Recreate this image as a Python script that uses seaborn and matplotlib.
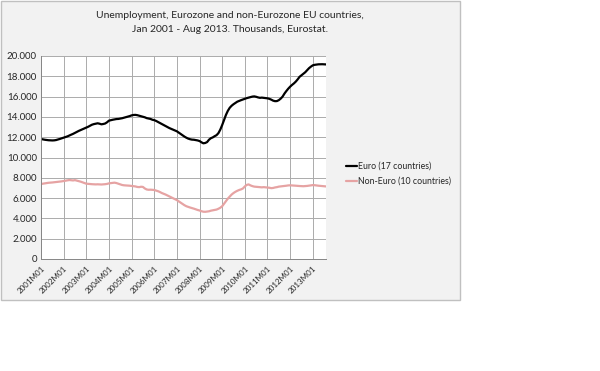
import numpy as np
import pandas as pd
import seaborn as sns
import matplotlib.pyplot as plt
from matplotlib.patches import Rectangle
from matplotlib.ticker import FuncFormatter

# ======================= Data (thousands, monthly Jan 2001 - Aug 2013) =====
euro = [
    11820, 11780, 11750, 11720, 11700, 11690, 11680, 11690, 11720, 11770, 11830, 11890,  # 2001
    11950, 12010, 12080, 12170, 12250, 12330, 12430, 12540, 12620, 12700, 12790, 12860,  # 2002
    12940, 13030, 13130, 13230, 13290, 13330, 13370, 13330, 13270, 13300, 13350, 13470,  # 2003
    13630, 13680, 13720, 13760, 13790, 13800, 13830, 13870, 13920, 13960, 14020, 14080,  # 2004
    14150, 14190, 14200, 14170, 14120, 14080, 14020, 13960, 13880, 13840, 13800, 13720,  # 2005
    13680, 13600, 13500, 13400, 13300, 13200, 13100, 13000, 12900, 12820, 12740, 12670,  # 2006
    12580, 12450, 12320, 12180, 12060, 11950, 11860, 11800, 11760, 11750, 11720, 11680,  # 2007
    11620, 11500, 11400, 11430, 11520, 11750, 11900, 11980, 12100, 12200, 12400, 12750,  # 2008
    13200, 13700, 14200, 14600, 14900, 15100, 15250, 15380, 15500, 15580, 15650, 15720,  # 2009
    15800, 15850, 15900, 15950, 16000, 16020, 15980, 15920, 15880, 15900, 15880, 15850,  # 2010
    15830, 15780, 15700, 15600, 15550, 15560, 15650, 15800, 16000, 16300, 16550, 16780,  # 2011
    16980, 17150, 17300, 17480, 17700, 17950, 18100, 18250, 18400, 18600, 18800, 18950,  # 2012
    19080, 19130, 19160, 19180, 19190, 19190, 19180, 19170,                              # 2013
]
non_euro = [
    7390, 7420, 7450, 7480, 7510, 7520, 7540, 7560, 7570, 7600, 7620, 7650,  # 2001
    7680, 7720, 7750, 7780, 7760, 7740, 7770, 7720, 7680, 7620, 7550, 7480,  # 2002
    7420, 7400, 7380, 7370, 7360, 7350, 7360, 7350, 7340, 7350, 7370, 7400,  # 2003
    7450, 7480, 7500, 7520, 7480, 7420, 7350, 7290, 7260, 7250, 7240, 7220,  # 2004
    7200, 7180, 7150, 7100, 7080, 7120, 7100, 6950, 6850, 6820, 6830, 6820,  # 2005
    6800, 6740, 6680, 6600, 6500, 6430, 6350, 6260, 6170, 6080, 5990, 5900,  # 2006
    5800, 5680, 5550, 5420, 5300, 5200, 5130, 5070, 5020, 4960, 4890, 4830,  # 2007
    4780, 4710, 4660, 4650, 4670, 4700, 4760, 4800, 4830, 4870, 4950, 5050,  # 2008
    5200, 5450, 5700, 5950, 6150, 6350, 6500, 6620, 6720, 6800, 6860, 6950,  # 2009
    7150, 7300, 7350, 7250, 7180, 7130, 7110, 7090, 7070, 7060, 7080, 7060,  # 2010
    7050, 7020, 6980, 7000, 7050, 7080, 7130, 7150, 7180, 7200, 7220, 7250,  # 2011
    7260, 7250, 7230, 7220, 7200, 7190, 7180, 7170, 7180, 7200, 7230, 7260,  # 2012
    7280, 7270, 7240, 7220, 7200, 7180, 7160, 7150,                          # 2013
]
series_names = ["Euro (17 countries)", "Non-Euro (10 countries)"]
series_colors = ["#000000", "#e6a3a3"]
years = list(range(2001, 2014))
tick_labels = [f"{y}M01" for y in years]

# ======================= Build long dataframe ===========================
months = np.arange(len(euro))
df = pd.DataFrame({
    "month": np.concatenate([months, months]),
    "value": euro + non_euro,
    "series": [series_names[0]] * len(euro) + [series_names[1]] * len(non_euro),
})

# ======================= Plot ===========================================
sns.set_style("white")
plt.rcParams["font.family"] = ["Lato", "DejaVu Sans"]

W, H = 600, 371
fig = plt.figure(figsize=(W / 100, H / 100), dpi=100, facecolor="white")

# chart area background (grey box), kept behind the axes
fig.patches.append(Rectangle((0.5 / W, 1 - 300 / H), 459 / W, 299.5 / H,
                             transform=fig.transFigure, facecolor="#f2f2f2",
                             edgecolor="#c0c0c0", linewidth=1.0, zorder=-10))

ax = fig.add_axes([41 / W, 1 - 259 / H, (326 - 41) / W, (259 - 56) / H])
ax.set_facecolor("white")

sns.lineplot(data=df, x="month", y="value", hue="series",
             palette=dict(zip(series_names, series_colors)),
             linewidth=1.6, ax=ax, legend=False)

ax.set_xlim(0, len(euro) - 1)
ax.set_ylim(0, 20000)
ax.set_yticks(np.arange(0, 20001, 2000))
ax.yaxis.set_major_formatter(FuncFormatter(lambda v, p: f"{int(v):,}".replace(",", ".")))
ax.set_xticks(np.arange(0, len(euro), 12))
ax.set_xticklabels(tick_labels, rotation=45, ha="right", rotation_mode="anchor")
ax.tick_params(axis="x", labelsize=5.8, length=3, width=0.6, color="#868686", pad=1)
ax.tick_params(axis="y", labelsize=7, length=0, pad=3)
ax.grid(True, color="#ababab", linewidth=0.7)
ax.set_xlabel("")
ax.set_ylabel("")
for s in ["top", "right"]:
    ax.spines[s].set_visible(False)
for s in ["left", "bottom"]:
    ax.spines[s].set_color("#868686")
    ax.spines[s].set_linewidth(0.7)

# title
fig.text(230 / W, 1 - 15 / H, "Unemployment, Eurozone and non-Eurozone EU countries,",
         ha="center", va="center", fontsize=7.5)
fig.text(230 / W, 1 - 30 / H, "Jan 2001 - Aug 2013. Thousands, Eurostat.",
         ha="center", va="center", fontsize=7.5)

# legend
handles = [plt.Line2D([0], [0], color=c, linewidth=1.6) for c in series_colors]
fig.legend(handles, series_names, loc="center left",
           bbox_to_anchor=(338 / W, 1 - 174 / H), frameon=False,
           fontsize=6.3, handlelength=1.3, handletextpad=0.1, labelspacing=0.7)

fig.savefig("out.png", dpi=100, facecolor="white")
